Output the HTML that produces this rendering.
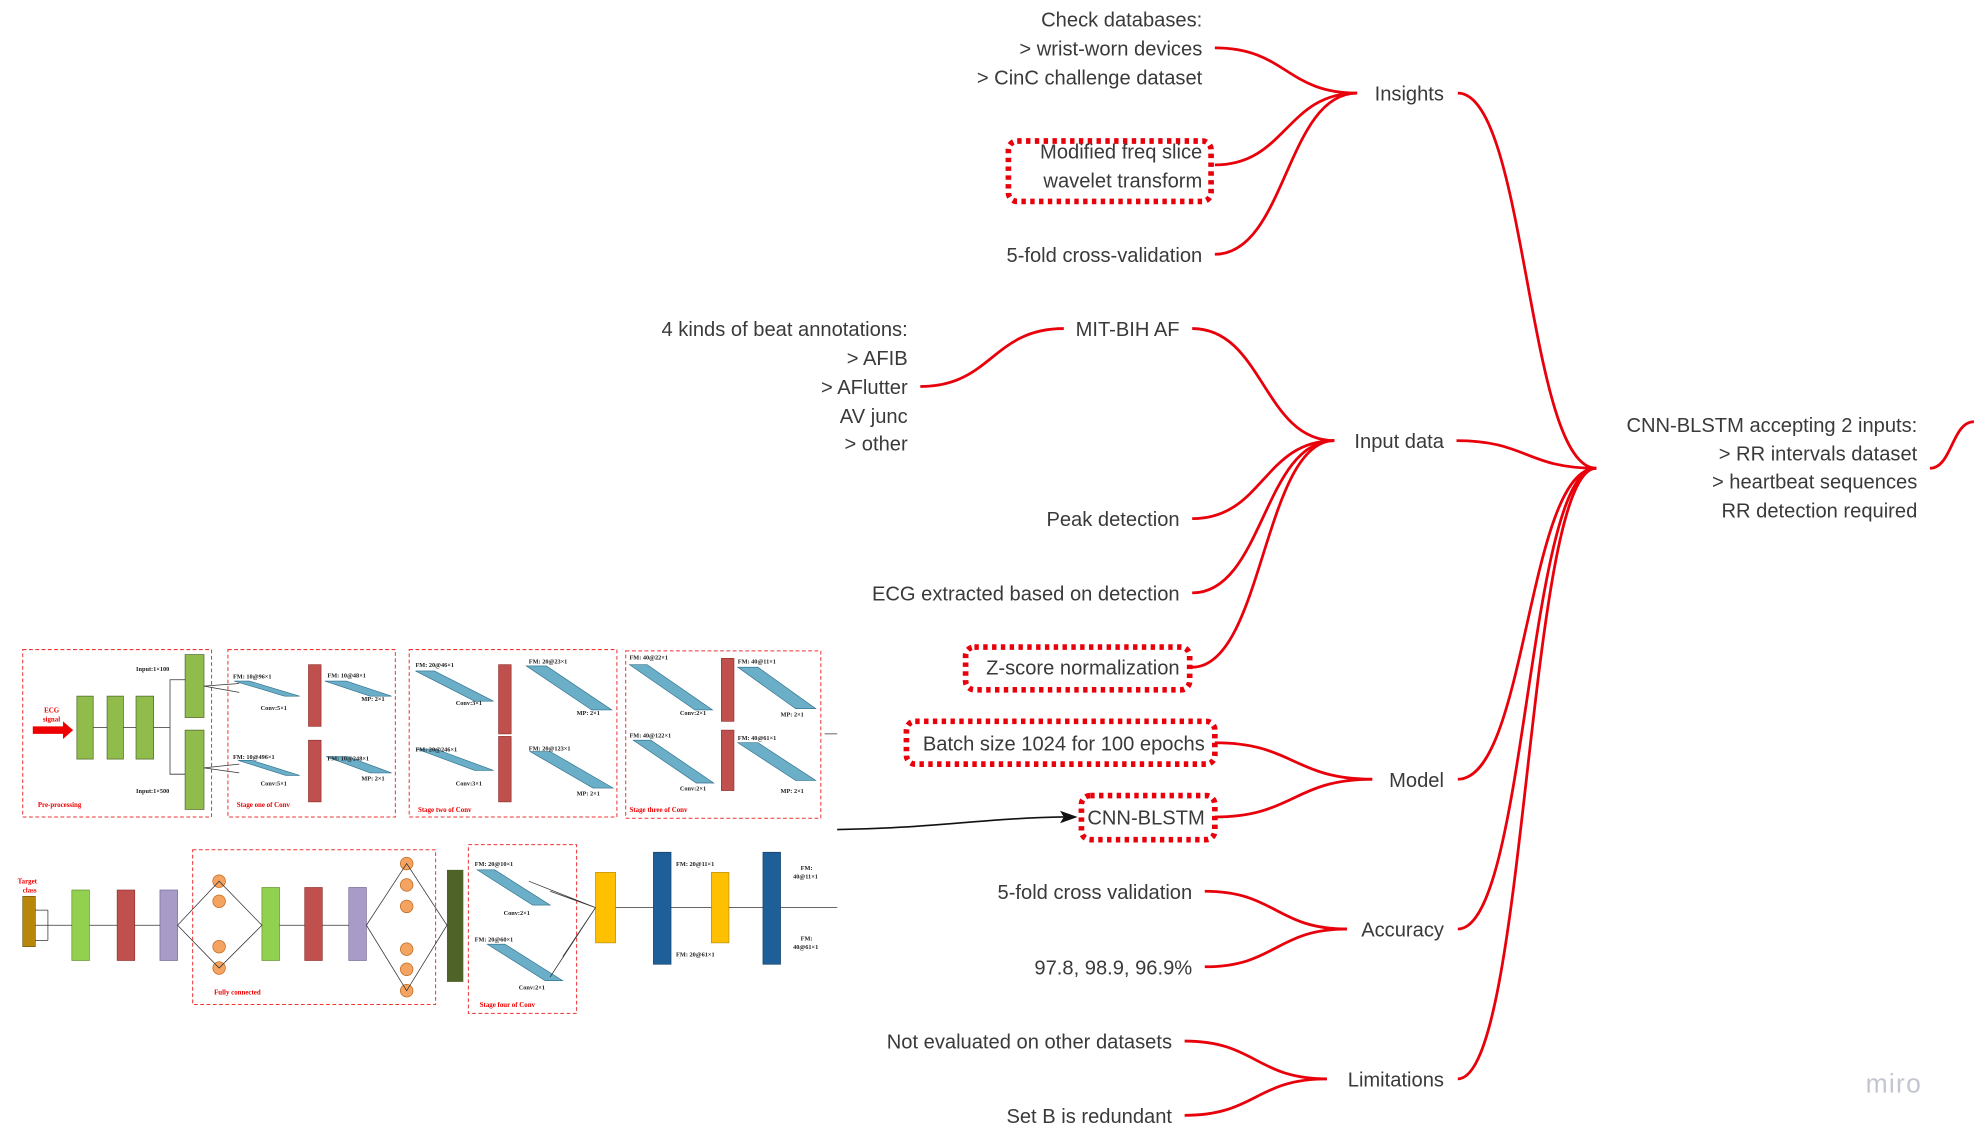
<!DOCTYPE html>
<html><head><meta charset="utf-8"><style>
html,body{margin:0;padding:0;background:#fff;}
svg{display:block;}
.t{font-family:"Liberation Sans",sans-serif;font-size:16px;fill:#3a3a3a;}
.s{font-family:"Liberation Serif",serif;font-size:5px;fill:#222;font-weight:bold;}
.r{font-family:"Liberation Serif",serif;font-size:5.5px;fill:#e00;font-weight:bold;}
</style></head><body>
<svg id="map" width="1974" height="1139" viewBox="0 0 1568 904.8" xmlns="http://www.w3.org/2000/svg">
<g id="edges" fill="none" stroke="#e8000b" stroke-width="2.2"></g>

<!-- dotted highlight boxes -->
<g fill="none" stroke="#e8000b" stroke-width="4.5" stroke-dasharray="3.5 3.5">
<rect x="801" y="112" width="161" height="48" rx="7"/>
<rect x="767" y="514" width="178" height="34" rx="7"/>
<rect x="720" y="573" width="245" height="34" rx="7"/>
<rect x="859" y="632" width="106" height="35" rx="7"/>
</g>

<g class="t" text-anchor="end">
<text><tspan x="955" y="21">Check databases:</tspan><tspan x="955" y="44">&gt; wrist-worn devices</tspan><tspan x="955" y="67">&gt; CinC challenge dataset</tspan></text>
<text><tspan x="955" y="126">Modified freq slice</tspan><tspan x="955" y="149">wavelet transform</tspan></text>
<text x="955" y="208">5-fold cross-validation</text>
<text x="1147" y="80">Insights</text>
<text><tspan x="721" y="267">4 kinds of beat annotations:</tspan><tspan x="721" y="290">&gt; AFIB</tspan><tspan x="721" y="313">&gt; AFlutter</tspan><tspan x="721" y="336">AV junc</tspan><tspan x="721" y="358">&gt; other</tspan></text>
<text x="937" y="267">MIT-BIH AF</text>
<text x="1147" y="356">Input data</text>
<text x="937" y="418">Peak detection</text>
<text x="937" y="477">ECG extracted based on detection</text>
<text x="937" y="536">Z-score normalization</text>
<text x="957" y="596">Batch size 1024 for 100 epochs</text>
<text x="957" y="655">CNN-BLSTM</text>
<text x="1147" y="625">Model</text>
<text x="947" y="714">5-fold cross validation</text>
<text x="947" y="774">97.8, 98.9, 96.9%</text>
<text x="1147" y="744">Accuracy</text>
<text x="931" y="833">Not evaluated on other datasets</text>
<text x="931" y="892">Set B is redundant</text>
<text x="1147" y="863">Limitations</text>
<text><tspan x="1523" y="343">CNN-BLSTM accepting 2 inputs:</tspan><tspan x="1523" y="366">&gt; RR intervals dataset</tspan><tspan x="1523" y="388">&gt; heartbeat sequences</tspan><tspan x="1523" y="411">RR detection required</tspan></text>
</g>
<text x="1482" y="868" style="font-family:'Liberation Sans',sans-serif;font-size:21px;fill:#c3c6d1;letter-spacing:1px">miro</text>

<!-- black arrow from diagram -->
<path d="M665 659 C740 658 780 650 845 649" stroke="#111" stroke-width="1.3" fill="none"/>
<polygon points="856,649 842,644 845,649 842,654" fill="#111"/>

<!-- network diagram image -->
<g id="diagram">
<g fill="none" stroke="#e33" stroke-width="0.8" stroke-dasharray="3 2">
<rect x="18" y="516" width="150" height="133"/>
<rect x="181" y="516" width="133" height="133"/>
<rect x="325" y="516" width="165" height="133"/>
<rect x="497" y="517" width="155" height="133"/>
<rect x="153" y="675" width="193" height="123"/>
<rect x="372" y="671" width="86" height="134"/>
</g>
<polygon points="26,577 50,577 50,573 58,580 50,587 50,583 26,583" fill="#e00"/>
<text class="r" x="35" y="566">ECG</text><text class="r" x="34" y="573">signal</text>
<g fill="#8fbc4a" stroke="#556b2f" stroke-width="0.6">
<rect x="61" y="553" width="13" height="50"/><rect x="85" y="553" width="13" height="50"/><rect x="108" y="553" width="14" height="50"/>
<rect x="147" y="520" width="15" height="50"/><rect x="147" y="580" width="15" height="63"/>
</g>
<g stroke="#333" stroke-width="0.6" fill="none"><path d="M74 578H85M98 578H108M122 578H135V540H147M135 578V615H147"/><path d="M162 545L190 543M162 545L190 550M162 610L190 607M162 610L190 614M665 583H655"/></g>
<text class="s" x="108" y="533">Input:1×100</text><text class="s" x="108" y="630">Input:1×500</text>
<text class="r" x="30" y="641">Pre-processing</text><text class="r" x="188" y="641">Stage one of Conv</text><text class="r" x="332" y="645">Stage two of Conv</text><text class="r" x="500" y="645">Stage three of Conv</text><text class="r" x="170" y="790">Fully connected</text><text class="r" x="381" y="800">Stage four of Conv</text>
<g fill="#c0504d" stroke="#8b2a28" stroke-width="0.5">
<rect x="245" y="528" width="10" height="49"/><rect x="245" y="588" width="10" height="49"/>
<rect x="396" y="528" width="10" height="55"/><rect x="396" y="585" width="10" height="52"/>
<rect x="573" y="523" width="10" height="50"/><rect x="573" y="580" width="10" height="48"/>
<rect x="93" y="707" width="14" height="56"/><rect x="242" y="705" width="14" height="58"/>
</g>
<g fill="#6aaec8" stroke="#2f6f8a" stroke-width="0.5">
<polygon points="186,541 198,541 238,553 226,553"/><polygon points="258,541 275,541 311,553 294,553"/>
<polygon points="189,604 200,604 238,616 227,616"/><polygon points="259,601 276,601 311,614 294,614"/>
<polygon points="330,533 345,533 392,557 377,557"/><polygon points="418,529 434,529 486,564 470,564"/>
<polygon points="331,595 346,595 392,612 377,612"/><polygon points="421,597 437,597 487,626 471,626"/>
<polygon points="500,528 514,528 566,564 552,564"/><polygon points="586,530 602,530 648,563 632,563"/>
<polygon points="503,588 517,588 567,622 553,622"/><polygon points="586,590 602,590 648,620 632,620"/>
<polygon points="379,691 393,691 437,719 423,719"/><polygon points="387,750 401,750 447,779 433,779"/>
</g>
<g class="s"><text x="185" y="539">FM: 10@96×1</text><text x="260" y="538">FM: 10@48×1</text><text x="207" y="564">Conv:5×1</text><text x="287" y="557">MP: 2×1</text>
<text x="185" y="603">FM: 10@496×1</text><text x="260" y="604">FM: 10@248×1</text><text x="207" y="624">Conv:5×1</text><text x="287" y="620">MP: 2×1</text>
<text x="330" y="530">FM: 20@46×1</text><text x="420" y="527">FM: 20@23×1</text><text x="362" y="560">Conv:3×1</text><text x="458" y="568">MP: 2×1</text>
<text x="330" y="597">FM: 20@246×1</text><text x="420" y="596">FM: 20@123×1</text><text x="362" y="624">Conv:3×1</text><text x="458" y="632">MP: 2×1</text>
<text x="500" y="524">FM: 40@22×1</text><text x="586" y="527">FM: 40@11×1</text><text x="540" y="568">Conv:2×1</text><text x="620" y="569">MP: 2×1</text>
<text x="500" y="586">FM: 40@122×1</text><text x="586" y="588">FM: 40@61×1</text><text x="540" y="628">Conv:2×1</text><text x="620" y="630">MP: 2×1</text>
<text x="377" y="688">FM: 20@10×1</text><text x="400" y="727">Conv:2×1</text><text x="377" y="748">FM: 20@60×1</text><text x="412" y="786">Conv:2×1</text>
<text x="537" y="688">FM: 20@11×1</text><text x="537" y="760">FM: 20@61×1</text><text x="636" y="691">FM:</text><text x="630" y="698">40@11×1</text><text x="636" y="747">FM:</text><text x="630" y="754">40@61×1</text></g>
<text class="r" x="14" y="702">Target</text><text class="r" x="18" y="709">class</text>
<rect x="18" y="712" width="10" height="40" fill="#b8860b" stroke="#6b4f07" stroke-width="0.5"/>
<g fill="#92d050" stroke="#5a8a2a" stroke-width="0.5"><rect x="57" y="707" width="14" height="56"/><rect x="208" y="705" width="14" height="58"/></g>
<g fill="#a99bc8" stroke="#6d5f8d" stroke-width="0.5"><rect x="127" y="707" width="14" height="56"/><rect x="277" y="705" width="14" height="58"/></g>
<rect x="355" y="691" width="13" height="89" fill="#4f6228"/>
<g fill="#ffc000" stroke="#b38600" stroke-width="0.5"><rect x="473" y="693" width="16" height="56"/><rect x="565" y="693" width="14" height="56"/></g>
<g fill="#1f5f99" stroke="#123a5e" stroke-width="0.5"><rect x="519" y="677" width="14" height="89"/><rect x="606" y="677" width="14" height="89"/></g>
<g fill="#f4a460" stroke="#c06a20" stroke-width="0.6">
<circle cx="174" cy="700" r="5"/><circle cx="174" cy="716" r="5"/><circle cx="174" cy="752" r="5"/><circle cx="174" cy="769" r="5"/>
<circle cx="323" cy="686" r="5"/><circle cx="323" cy="703" r="5"/><circle cx="323" cy="720" r="5"/><circle cx="323" cy="754" r="5"/><circle cx="323" cy="770" r="5"/><circle cx="323" cy="787" r="5"/>
</g>
<g stroke="#333" stroke-width="0.6" fill="none">
<path d="M141 735L174 700L208 735L174 769ZM291 735L323 686L355 735L323 787Z"/>
<path d="M28 735H57M71 735H93M107 735H127M222 735H242M256 735H277M489 721H519M533 721H565M579 721H606M620 721H665"/>
<path d="M437 708L473 721L420 700M447 760L473 721L437 776"/>
<path d="M38 723V747M28 723H38M28 747H38"/>
</g>
</g>
</svg>
<script>
var edges=[
 [965,38,1078,74,'edge-check-insights'],[965,131,1078,74,'edge-wavelet-insights'],[965,202,1078,74,'edge-cv-insights'],
 [1158,74,1268,372,'edge-insights-root'],
 [845,261,731,307,'edge-mit-annotations'],[947,261,1060,350,'edge-mit-input'],[947,412,1060,350,'edge-peak-input'],
 [947,471,1060,350,'edge-ecg-input'],[947,530,1060,350,'edge-zscore-input'],[1157,350,1268,372,'edge-input-root'],
 [965,590,1090,619,'edge-batch-model'],[965,649,1090,619,'edge-cnn-model'],[1158,619,1268,372,'edge-model-root'],
 [957,708,1070,738,'edge-cv-accuracy'],[957,768,1070,738,'edge-values-accuracy'],[1158,738,1268,372,'edge-accuracy-root'],
 [941,827,1054,857,'edge-noteval-limitations'],[941,886,1054,857,'edge-setb-limitations'],[1158,857,1268,372,'edge-limitations-root'],
 [1533,372,1568,335,'edge-root-right']
];
var g=document.getElementById('edges');
edges.forEach(function(e){
 var p=document.createElementNS('http://www.w3.org/2000/svg','path');
 var mx=(e[0]+e[2])/2;
 p.setAttribute('d','M'+e[0]+' '+e[1]+' C'+mx+' '+e[1]+' '+mx+' '+e[3]+' '+e[2]+' '+e[3]);
 
 
 g.appendChild(p);
});
</script>
</body></html>
